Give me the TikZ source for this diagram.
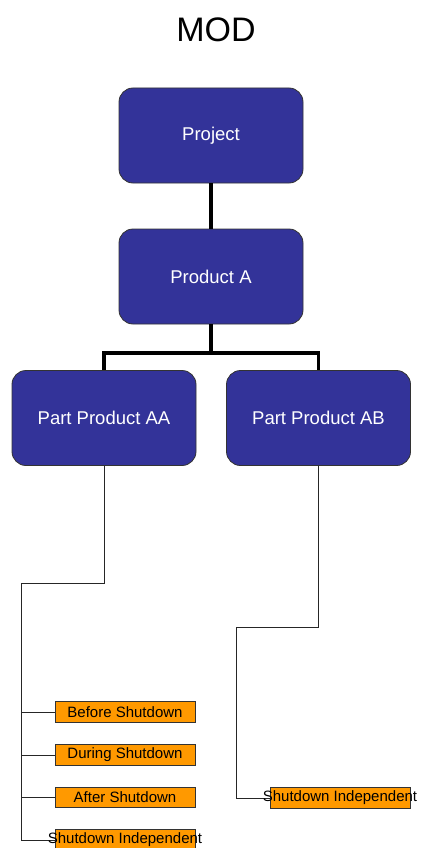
\documentclass[tikz,border=0pt]{standalone}
\usepackage{fontspec}
\setmainfont{Liberation Sans}
\begin{document}
\begin{tikzpicture}[x=1pt,y=-1pt,
  bluebox/.style={draw=black!80, line width=0.8pt, fill=blueFill, rounded corners=14pt,
    minimum width=184pt, minimum height=95pt, inner sep=0pt,
    text=white, font=\fontsize{18.5}{22}\selectfont},
  orangebox/.style={draw=black!80, line width=0.8pt, fill=orangeFill,
    minimum width=140pt, minimum height=20.5pt, inner sep=0pt},
  orangetext/.style={inner sep=0pt, text=black, font=\fontsize{15}{18}\selectfont},
  thick link/.style={line width=3.8pt},
  thin link/.style={line width=1pt, black!85}]
\definecolor{blueFill}{HTML}{333399}
\definecolor{orangeFill}{HTML}{FF9900}
\useasboundingbox (0,0) rectangle (420,848);

% title
\node[font=\fontsize{34}{40}\selectfont] (title) at (216,30) {MOD};

% hierarchy boxes
\node[bluebox] (project) at (211,135.5) {Project};
\node[bluebox] (producta) at (211,276.5) {Product A};
\node[bluebox] (aa) at (104,418) {Part Product AA};
\node[bluebox] (ab) at (318.5,418) {Part Product AB};

% thick connectors between the hierarchy boxes
\coordinate (split) at (211,353);
\draw[thick link] (project.south) -- (producta.north);
\draw[thick link] (producta.south) -- (split);
\draw[thick link] (aa.north) |- (split) -| (ab.north);

% phase boxes under Part Product AA
\node[orangebox] (before) at (125,712) {};
\node[orangebox] (during) at (125,755) {};
\node[orangebox] (after) at (125,797.5) {};
\node[orangebox] (indepaa) at (125,840) {};

% phase box under Part Product AB
\node[orangebox] (indepab) at (340,798) {};

% thin connectors
\coordinate (aabend) at (104,583);
\coordinate (aarail) at (21,583);
\coordinate (abbend) at (318.5,627);
\coordinate (abrail) at (236,627);
\draw[thin link] (aa.south) -- (aabend) -- (aarail) |- (indepaa.west);
\draw[thin link] (aarail |- before.west) -- (before.west);
\draw[thin link] (aarail |- during.west) -- (during.west);
\draw[thin link] (aarail |- after.west) -- (after.west);
\draw[thin link] (ab.south) -- (abbend) -- (abrail) |- (indepab.west);

% phase labels, set over the boxes
\node[orangetext] at (before) {Before Shutdown};
\node[orangetext] at (during) {During Shutdown};
\node[orangetext] at (after) {After Shutdown};
\node[orangetext] at (indepaa) {Shutdown Independent};
\node[orangetext] at (indepab) {Shutdown Independent};
\end{tikzpicture}
\end{document}
